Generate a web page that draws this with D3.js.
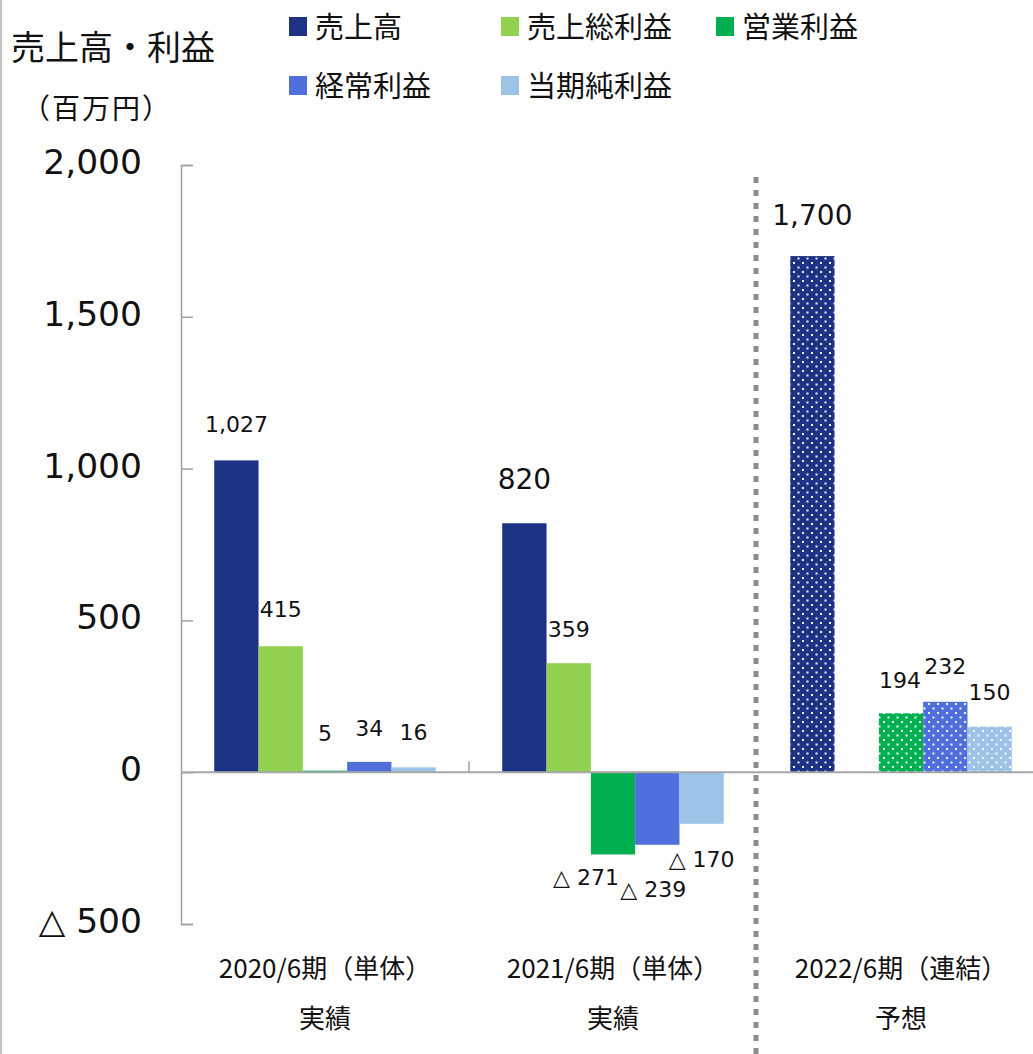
<!DOCTYPE html>
<html>
<head>
<meta charset="utf-8">
<script src="https://cdn.jsdelivr.net/npm/d3@7/dist/d3.min.js"></script>
<style>
  html, body { margin: 0; padding: 0; background: #ffffff; }
  svg { display: block; }
</style>
</head>
<body>
<script>
// ---------------- data ----------------
const periods = ["2020/6期（単体）", "2021/6期（単体）", "2022/6期（連結）"];
const periodNotes = ["実績", "実績", "予想"];
const seriesNames = ["売上高", "売上総利益", "営業利益", "経常利益", "当期純利益"];
const sales        = [1027, 820, 1700];
const grossProfit  = [415, 359, null];
const operatingInc = [5, -271, 194];
const ordinaryInc  = [34, -239, 232];
const netIncome    = [16, -170, 150];
const yTickValues  = [2000, 1500, 1000, 500, 0, -500];
const yTickLabels  = ["2,000", "1,500", "1,000", "500", "0", "△ 500"];
const forecastIndex = 2;

// ---------------- styling / layout ----------------
const seriesValues = [sales, grossProfit, operatingInc, ordinaryInc, netIncome];
const colors = ["#1d3185", "#92d050", "#00b050", "#4e6fdc", "#9dc3e6"];
// label nudges [dx, dy] per series per period (dy relative to default placement)
const labelNudge = [
  [[0, 0], [0, -3], [0, 0]],
  [[0, -1], [0, 2], [0, 0]],
  [[0, -2], [-27, 0], [-1, 3]],
  [[0, 2], [-4, 21], [0, 0]],
  [[0, 1], [0, 12], [0, 1]]
];
const bigLabel = [[false, true, true], [false, false, false], [false, false, false], [false, false, false], [false, false, false]];

const W = 1033, H = 1054;
const svg = d3.select("body").append("svg").attr("width", W).attr("height", H);
svg.append("rect").attr("width", W).attr("height", H).attr("fill", "#fff");
svg.append("line").attr("x1", 1).attr("x2", 1).attr("y1", 0).attr("y2", H)
  .attr("stroke", "#c4c4c4").attr("stroke-width", 2);

const numFont = "'DejaVu Sans', Verdana, sans-serif";
const jpFont = "'Noto Sans CJK JP', 'Noto Sans', sans-serif";

// patterns for forecast bars
const defs = svg.append("defs");
colors.forEach((c, i) => {
  const p = defs.append("pattern").attr("id", "dots" + i)
    .attr("patternUnits", "userSpaceOnUse").attr("width", 9).attr("height", 9);
  p.append("rect").attr("width", 9).attr("height", 9).attr("fill", c);
  p.append("rect").attr("x", 1).attr("y", 1).attr("width", 2).attr("height", 2).attr("fill", "#fff").attr("opacity", 0.95);
  p.append("rect").attr("x", 5.5).attr("y", 5.5).attr("width", 2).attr("height", 2).attr("fill", "#fff").attr("opacity", 0.95);
});

const y = d3.scaleLinear().domain([-500, 2000]).range([924, 165]);
const x0 = d3.scaleBand().domain(periods).range([181, 1045]).padding(0);
const x1 = d3.scaleBand().domain(seriesNames).range([0, x0.bandwidth()])
  .paddingInner(0).paddingOuter(0.75);

// y axis (ticks pointing inward)
const yAxis = d3.axisRight(y).tickValues(yTickValues).tickSize(12).tickSizeOuter(12).tickFormat("");
const gy = svg.append("g").attr("transform", "translate(181,0)").call(yAxis);
gy.selectAll("path, line").attr("stroke", "#a0a0a0").attr("stroke-width", 1.5);

svg.append("g").selectAll("text").data(yTickValues).join("text")
  .attr("x", 142).attr("y", d => y(d) - 3)
  .attr("text-anchor", "end").attr("dominant-baseline", "central")
  .attr("font-family", numFont).attr("font-size", 34.5).attr("fill", "#111")
  .text((d, i) => yTickLabels[i]);

// bars
const gBars = svg.append("g");
seriesNames.forEach((s, si) => {
  periods.forEach((p, pi) => {
    const v = seriesValues[si][pi];
    if (v === null || v === undefined) return;
    const bx = x0(p) + x1(s);
    gBars.append("rect")
      .attr("x", bx).attr("width", x1.bandwidth())
      .attr("y", y(Math.max(0, v)))
      .attr("height", Math.abs(y(v) - y(0)))
      .attr("fill", pi === forecastIndex ? `url(#dots${si})` : colors[si]);
  });
});

// baseline & separators
svg.append("line").attr("x1", 181).attr("x2", W).attr("y1", y(0)).attr("y2", y(0))
  .attr("stroke", "#a6a6a6").attr("stroke-width", 2);
svg.append("line").attr("x1", x0(periods[1])).attr("x2", x0(periods[1]))
  .attr("y1", y(0)).attr("y2", y(0) - 11).attr("stroke", "#a0a0a0").attr("stroke-width", 1.5);
svg.append("line").attr("x1", x0(periods[2]) - 1).attr("x2", x0(periods[2]) - 1)
  .attr("y1", 177).attr("y2", H)
  .attr("stroke", "#8c8c8c").attr("stroke-width", 5).attr("stroke-dasharray", "6,7");

// value labels
const fmt = d3.format(",");
seriesNames.forEach((s, si) => {
  periods.forEach((p, pi) => {
    const v = seriesValues[si][pi];
    if (v === null || v === undefined) return;
    const cx = x0(p) + x1(s) + x1.bandwidth() / 2;
    const big = bigLabel[si][pi];
    const fs = big ? 28 : 22;
    const [dx, dy] = labelNudge[si][pi];
    const base = v >= 0 ? y(v) - 28 - (big ? 3 : 0) : y(v) + 31;
    svg.append("text")
      .attr("x", cx + dx).attr("y", base + dy)
      .attr("text-anchor", "middle")
      .attr("font-family", numFont).attr("font-size", fs).attr("fill", "#111")
      .text(v >= 0 ? fmt(v) : "△ " + fmt(-v));
  });
});

// category labels
periods.forEach((p, i) => {
  const cx = x0(p) + x0.bandwidth() / 2;
  svg.append("text").attr("x", cx).attr("y", 978).attr("text-anchor", "middle")
    .attr("font-family", jpFont).attr("font-size", 26).attr("fill", "#111").text(p);
  svg.append("text").attr("x", cx).attr("y", 1028).attr("text-anchor", "middle")
    .attr("font-family", jpFont).attr("font-size", 26).attr("fill", "#111").text(periodNotes[i]);
});

// title
svg.append("text").attr("x", 11).attr("y", 60)
  .attr("font-family", jpFont).attr("font-size", 34).attr("fill", "#111").text("売上高・利益");
svg.append("text").attr("x", 22).attr("y", 119)
  .attr("font-family", jpFont).attr("font-size", 28).attr("letter-spacing", 2)
  .attr("fill", "#111").text("（百万円）");

// legend
const legendPos = [[289, 25], [501, 25], [716, 25], [289, 84], [501, 84]];
const lg = svg.append("g");
seriesNames.forEach((s, i) => {
  const [lx, ly] = legendPos[i];
  lg.append("rect").attr("x", lx).attr("y", ly - 8).attr("width", 18).attr("height", 19).attr("fill", colors[i]);
  lg.append("text").attr("x", lx + 26).attr("y", ly).attr("dominant-baseline", "central")
    .attr("font-family", jpFont).attr("font-size", 29).attr("fill", "#111").text(s);
});
</script>
</body>
</html>
